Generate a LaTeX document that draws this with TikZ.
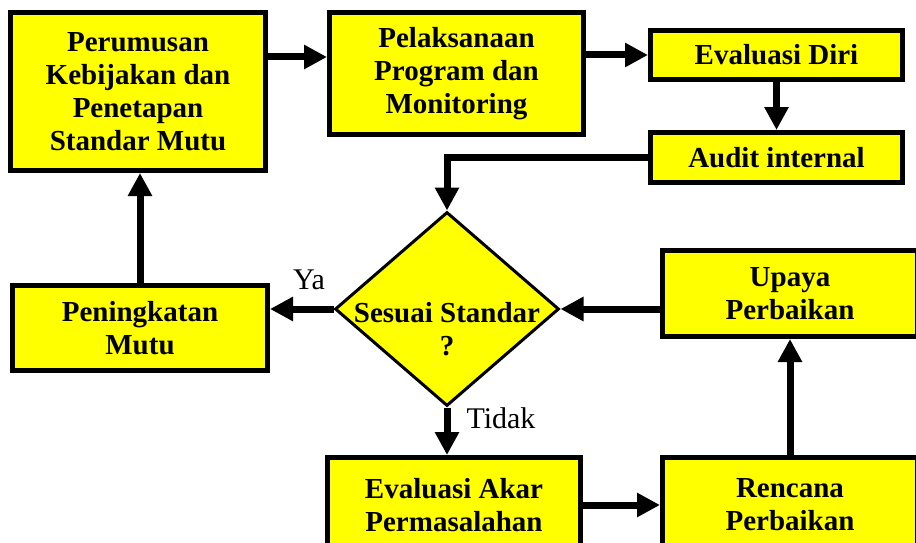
\documentclass[tikz,border=0pt]{standalone}
\usepackage{fontspec}
\setmainfont{Liberation Serif}
\usetikzlibrary{shapes.geometric,arrows.meta}
\definecolor{boxyellow}{RGB}{255,255,0}
\tikzset{
  box/.style={draw,fill=boxyellow,line width=5pt,align=center,
    font=\fontsize{29}{33}\selectfont\bfseries},
  decision/.style={draw,fill=boxyellow,diamond,line width=3pt,inner sep=0pt,
    minimum width=224pt,minimum height=194pt},
  arr/.style={-{Triangle[length=23pt,width=23pt]},line width=7pt},
  lbl/.style={font=\fontsize{30}{33}\selectfont}
}
\begin{document}
\begin{tikzpicture}[x=1pt,y=-1pt]
      \clip (0,0) rectangle (916,543);
      \useasboundingbox (0,0) rectangle (916,543);
      \def \Boxes{
        rumus/138/91.5/255/158/{Perumusan\\Kebijakan dan\\Penetapan\\Standar Mutu},
        laksana/456.5/73.5/254/122/{Pelaksanaan\\Program dan\\Monitoring},
        evaldiri/776.5/55/252/49/{Evaluasi Diri},
        audit/776.5/157.5/252/50/{Audit internal},
        mutu/140/328/255/85/{Peningkatan\\Mutu},
        upaya/790/293.5/255/86/{Upaya\\Perbaikan},
        akar/454/505/253/95/{Evaluasi Akar\\Permasalahan},
        rencana/790/505/255/95/{Rencana\\Perbaikan}}
      \foreach \id / \x / \y / \w / \h / \t in \Boxes{
        \node[box,minimum width=\w pt,minimum height=\h pt] (\id) at (\x, \y) {\t};
      }
      \node[decision] (dec) at (447, 309) {};
      \node[box,draw=none,fill=none] (dectext) at (447, 329) {Sesuai Standar\\?};
      % connectors
      \draw[arr] ([yshift=-2pt]rumus.east |- evaldiri) -- ([yshift=-2pt]laksana.west |- evaldiri);
      \draw[arr] (laksana.east |- evaldiri) -- (evaldiri.west);
      \draw[arr] (evaldiri.south) -- (audit.north);
      \draw[arr] (audit.west) -| (dec.north);
      \draw[arr] (dec.west) -- (mutu.east |- dec.west);
      \draw[arr] (mutu.north) -- (rumus.south -| mutu.north);
      \draw[arr] (upaya.west |- dec.east) -- (dec.east);
      \draw[arr] (rencana.north) -- (upaya.south);
      \draw[arr] (dec.south) -- (akar.north -| dec.south);
      \draw[arr] (akar.east) -- (rencana.west |- akar.east);
      \node[lbl] (ya) at (309, 280) {Ya};
      \node[lbl] (tidak) at (501, 418) {Tidak};
\end{tikzpicture}
\end{document}
